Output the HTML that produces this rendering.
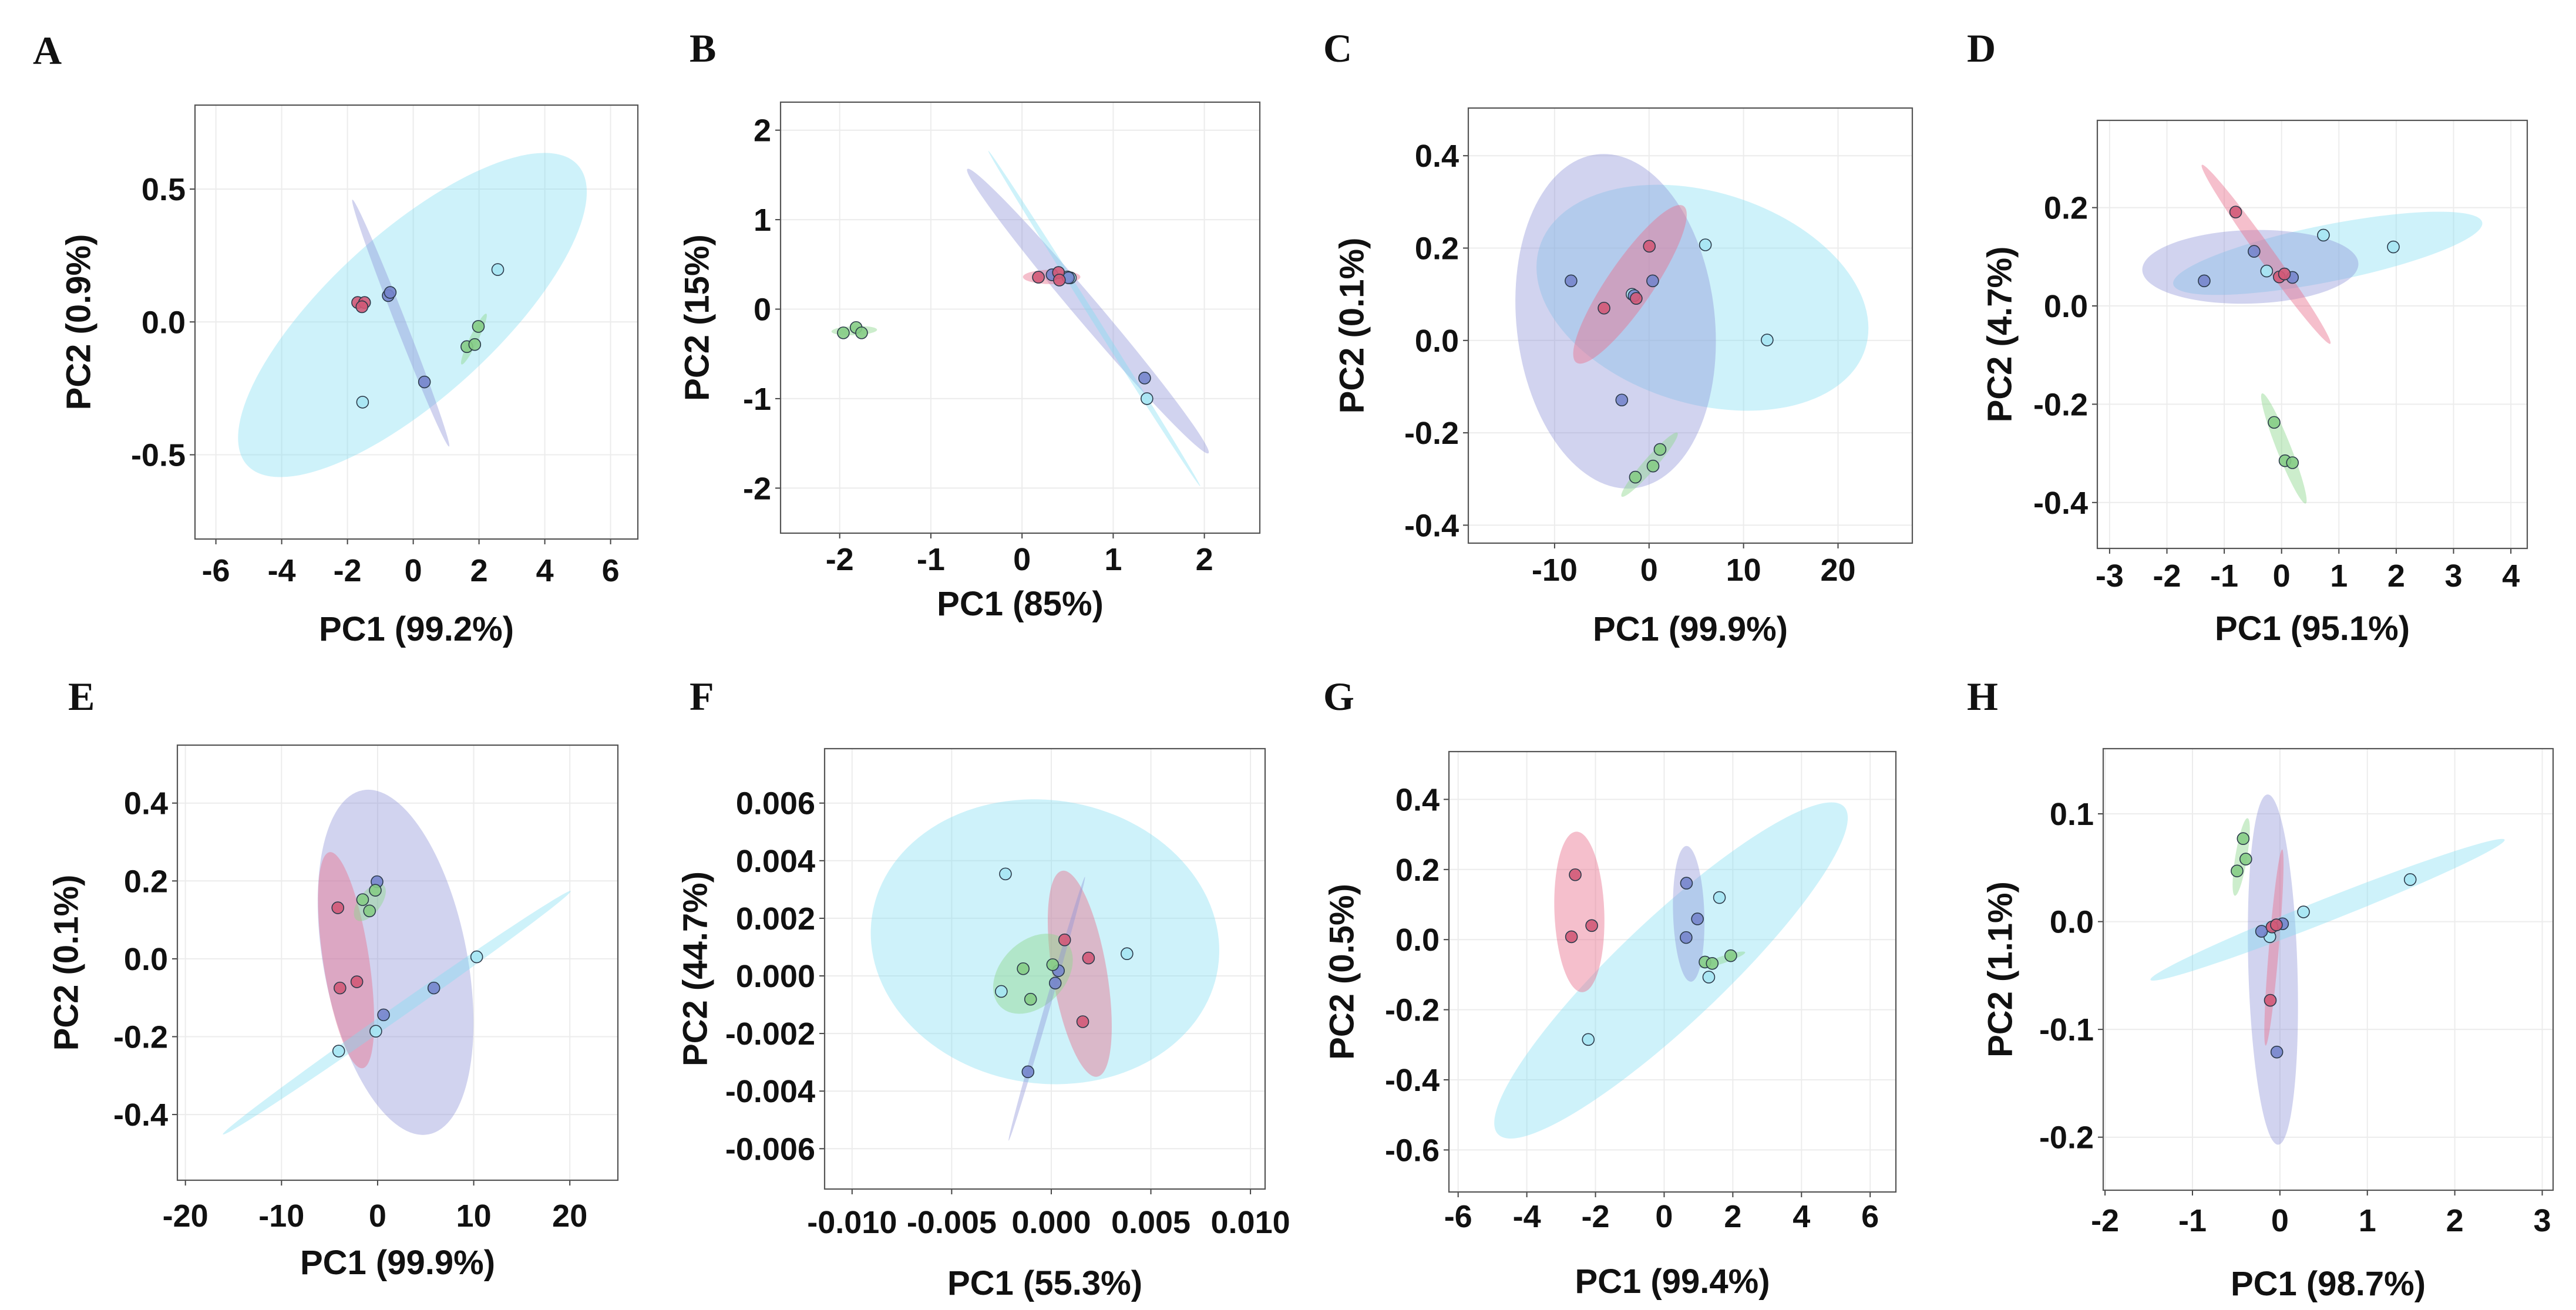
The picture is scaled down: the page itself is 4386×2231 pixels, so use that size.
<!DOCTYPE html>
<html><head><meta charset="utf-8">
<style>
html,body{margin:0;padding:0;background:#fff;}
svg{display:block;}
.tick{font-family:"Liberation Sans",Arial,sans-serif;font-weight:bold;font-size:54px;fill:#111;}
.title{font-family:"Liberation Sans",Arial,sans-serif;font-weight:bold;font-size:58px;fill:#111;}
.letter{font-family:"Liberation Serif","Times New Roman",serif;font-weight:bold;font-size:68px;fill:#111;}
</style></head>
<body>
<svg id="fig" width="4386" height="2231" viewBox="0 0 4386 2231" xmlns="http://www.w3.org/2000/svg"></svg>
<script>
// ---------- DATA (PC1, PC2 per sample) ----------
const A_xticks=[-6,-4,-2,0,2,4,6]; const A_yticks=[-0.5,0,0.5];
const A_red=[[-1.69,0.073],[-1.48,0.073],[-1.56,0.057]];
const A_blue=[[-0.76,0.099],[-0.70,0.111],[0.34,-0.226]];
const A_cyan=[[2.57,0.197],[-1.54,-0.302]];
const A_green=[[1.63,-0.093],[1.87,-0.085],[1.98,-0.017]];

const B_xticks=[-2,-1,0,1,2]; const B_yticks=[-2,-1,0,1,2];
const B_red=[[0.18,0.357],[0.40,0.41],[0.41,0.325]];
const B_blue=[[0.33,0.384],[0.51,0.35],[1.345,-0.77]];
const B_cyan=[[0.53,0.35],[0.50,0.36],[1.37,-1.0]];
const B_green=[[-1.96,-0.265],[-1.82,-0.205],[-1.76,-0.265]];

const C_xticks=[-10,0,10,20]; const C_yticks=[-0.4,-0.2,0,0.2,0.4];
const C_red=[[0.03,0.204],[-4.77,0.07],[-1.36,0.091]];
const C_blue=[[-8.26,0.129],[0.38,0.129],[-2.89,-0.129],[-1.58,0.097]];
const C_cyan=[[5.96,0.207],[12.5,0.001],[-1.8,0.1]];
const C_green=[[-1.45,-0.296],[0.42,-0.272],[1.16,-0.236]];

const D_xticks=[-3,-2,-1,0,1,2,3,4]; const D_yticks=[-0.4,-0.2,0,0.2];
const D_red=[[-0.8,0.191],[-0.04,0.059],[0.05,0.065]];
const D_blue=[[-1.35,0.051],[-0.48,0.111],[0.19,0.058]];
const D_cyan=[[0.73,0.144],[1.95,0.12],[-0.26,0.071]];
const D_green=[[-0.13,-0.237],[0.06,-0.315],[0.19,-0.319]];

const E_xticks=[-20,-10,0,10,20]; const E_yticks=[-0.4,-0.2,0,0.2,0.4];
const E_red=[[-4.14,0.131],[-3.92,-0.075],[-2.16,-0.059]];
const E_blue=[[-0.06,0.198],[0.62,-0.144],[5.85,-0.075]];
const E_cyan=[[10.31,0.005],[-0.19,-0.186],[-4.05,-0.237]];
const E_green=[[-1.56,0.152],[-0.24,0.176],[-0.84,0.123]];

const F_xticks=[-0.01,-0.005,0,0.005,0.01]; const F_yticks=[-0.006,-0.004,-0.002,0,0.002,0.004,0.006];
const F_red=[[0.00067,0.00125],[0.00187,0.00062],[0.00158,-0.00159]];
const F_blue=[[0.00036,0.00018],[0.0002,-0.00025],[-0.00117,-0.00333]];
const F_cyan=[[-0.0023,0.00354],[-0.00251,-0.00054],[0.0038,0.00077]];
const F_green=[[-0.00141,0.00025],[0.00007,0.00039],[-0.00104,-0.00081]];

const G_xticks=[-6,-4,-2,0,2,4,6]; const G_yticks=[-0.6,-0.4,-0.2,0,0.2,0.4];
const G_red=[[-2.59,0.185],[-2.11,0.04],[-2.7,0.008]];
const G_blue=[[0.65,0.161],[0.97,0.059],[0.64,0.006]];
const G_cyan=[[1.61,0.12],[1.30,-0.107],[-2.21,-0.285]];
const G_green=[[1.19,-0.064],[1.40,-0.068],[1.94,-0.046]];

const H_xticks=[-2,-1,0,1,2,3]; const H_yticks=[-0.2,-0.1,0,0.1];
const H_red=[[-0.09,-0.005],[-0.04,-0.003],[-0.11,-0.073]];
const H_blue=[[-0.21,-0.009],[0.03,-0.002],[-0.035,-0.121]];
const H_cyan=[[0.27,0.009],[1.49,0.039],[-0.115,-0.014]];
const H_green=[[-0.42,0.077],[-0.39,0.058],[-0.49,0.047]];

// confidence ellipses: [group, majorEnd1, majorEnd2, minor/major ratio]
const A_ell=[["cyan",[-5.05,-0.539],[5.0,0.591],0.37],["blue",[-1.85,0.46],[1.09,-0.469],0.04],["green",[1.47,-0.16],[2.22,0.031],0.15],["red",[-1.8,0.068],[-1.35,0.068],0.5]];
const B_ell=[["blue",[-0.6,1.567],[2.045,-1.61],0.065],["cyan",[-0.37,1.77],[1.955,-1.98],0.015],["red",[0.01,0.36],[0.64,0.36],0.25],["green",[-2.09,-0.25],[-1.59,-0.23],0.2]];
const C_ell=[["cyan",[-11.6,0.202],[22.9,-0.017],0.62],["blue",[-5.5,0.403],[-1.58,-0.32],0.59],["red",[-7.69,-0.048],[3.65,0.291],0.24],["green",[-2.9,-0.338],[3.0,-0.2],0.15]];
const D_ell=[["cyan",[-1.89,0.044],[3.5,0.17],0.18],["blue",[-2.43,0.073],[1.34,0.086],0.34],["red",[-1.39,0.287],[0.85,-0.077],0.07],["green",[-0.34,-0.178],[0.42,-0.402],0.12]];
const E_ell=[["blue",[-1.56,0.433],[5.3,-0.451],0.41],["red",[-5.0,0.274],[-1.56,-0.281],0.21],["cyan",[-16.1,-0.451],[20.09,0.174],0.03],["green",[-2.2,0.1],[0.58,0.19],0.5]];
const F_ell=[["cyan",[-0.009,0.00208],[0.00837,0.00029],0.81],["red",[0.00055,0.00365],[0.00231,-0.0035],0.26],["green",[-0.00255,-0.00107],[0.00071,0.00122],0.7],["blue",[-0.00214,-0.00572],[0.00169,0.00344],0.02]];
const G_ell=[["cyan",[-4.84,-0.555],[5.24,0.379],0.22],["red",[-2.56,0.308],[-2.38,-0.15],0.31],["blue",[0.65,0.267],[0.78,-0.12],0.23],["green",[1.04,-0.079],[2.36,-0.036],0.15]];
const H_ell=[["blue",[-0.14,0.118],[-0.02,-0.207],0.14],["red",[0.026,0.067],[-0.163,-0.115],0.05],["cyan",[-1.48,-0.054],[2.57,0.076],0.06],["green",[-0.37,0.096],[-0.515,0.024],0.15]];

const A_labels=["-6","-4","-2","0","2","4","6"]; const A_ylabels=["-0.5","0.0","0.5"];
const B_labels=["-2","-1","0","1","2"]; const B_ylabels=["-2","-1","0","1","2"];
const C_labels=["-10","0","10","20"]; const C_ylabels=["-0.4","-0.2","0.0","0.2","0.4"];
const D_labels=["-3","-2","-1","0","1","2","3","4"]; const D_ylabels=["-0.4","-0.2","0.0","0.2"];
const E_labels=["-20","-10","0","10","20"]; const E_ylabels=["-0.4","-0.2","0.0","0.2","0.4"];
const F_labels=["-0.010","-0.005","0.000","0.005","0.010"]; const F_ylabels=["-0.006","-0.004","-0.002","0.000","0.002","0.004","0.006"];
const G_labels=["-6","-4","-2","0","2","4","6"]; const G_ylabels=["-0.6","-0.4","-0.2","0.0","0.2","0.4"];
const H_labels=["-2","-1","0","1","2","3"]; const H_ylabels=["-0.2","-0.1","0.0","0.1"];

// ---------- LAYOUT ----------
const panels=[
 {id:"A",box:[332,179,1086,918],xr:[-6,367.6,6,1039.6],yr:[0.5,322,-0.5,774.5],xt:"PC1 (99.2%)",yt:"PC2 (0.9%)",lt:[56,109],ytx:198,xtb:173,xlb:72,xticks:A_xticks,yticks:A_yticks,xl:A_labels,yl:A_ylabels,ell:A_ell,g:{cyan:A_cyan,blue:A_blue,red:A_red,green:A_green}},
 {id:"B",box:[1329,174,2145,908],xr:[-2,1429.7,2,2050.6],yr:[2,221.7,-2,831.3],xt:"PC1 (85%)",yt:"PC2 (15%)",lt:[1174,105],ytx:142,xtb:140,xlb:63,xticks:B_xticks,yticks:B_yticks,xl:B_labels,yl:B_ylabels,ell:B_ell,g:{cyan:B_cyan,blue:B_blue,red:B_red,green:B_green}},
 {id:"C",box:[2500,184,3256,925],xr:[-10,2646.9,20,3129.5],yr:[0.4,265.2,-0.4,894.4],xt:"PC1 (99.9%)",yt:"PC2 (0.1%)",lt:[2253,105],ytx:198,xtb:166,xlb:64,xticks:C_xticks,yticks:C_yticks,xl:C_labels,yl:C_ylabels,ell:C_ell,g:{cyan:C_cyan,blue:C_blue,red:C_red,green:C_green}},
 {id:"D",box:[3571,205,4303,934],xr:[-3,3591.9,4,4275.1],yr:[0.2,353.6,-0.4,855.8],xt:"PC1 (95.1%)",yt:"PC2 (4.7%)",lt:[3349,105],ytx:166,xtb:156,xlb:65,xticks:D_xticks,yticks:D_yticks,xl:D_labels,yl:D_ylabels,ell:D_ell,g:{cyan:D_cyan,blue:D_blue,red:D_red,green:D_green}},
 {id:"E",box:[302,1269,1052,2010],xr:[-20,315.7,20,970.2],yr:[0.4,1367.7,-0.4,1898.1],xt:"PC1 (99.9%)",yt:"PC2 (0.1%)",lt:[116,1209],ytx:189,xtb:160,xlb:79,xticks:E_xticks,yticks:E_yticks,xl:E_labels,yl:E_ylabels,ell:E_ell,g:{cyan:E_cyan,blue:E_blue,red:E_red,green:E_green}},
 {id:"F",box:[1404,1275,2154,2025],xr:[-0.01,1450.8,0.01,2129.1],yr:[0.006,1367.7,-0.006,1956.3],xt:"PC1 (55.3%)",yt:"PC2 (44.7%)",lt:[1174,1209],ytx:220,xtb:180,xlb:75,xticks:F_xticks,yticks:F_yticks,xl:F_labels,yl:F_ylabels,ell:F_ell,g:{cyan:F_cyan,blue:F_blue,red:F_red,green:F_green}},
 {id:"G",box:[2467,1280,3228,2030],xr:[-6,2482.7,6,3184.2],yr:[0.4,1361.4,-0.6,1958.4],xt:"PC1 (99.4%)",yt:"PC2 (0.5%)",lt:[2253,1209],ytx:182,xtb:172,xlb:60,xticks:G_xticks,yticks:G_yticks,xl:G_labels,yl:G_ylabels,ell:G_ell,g:{cyan:G_cyan,blue:G_blue,red:G_red,green:G_green}},
 {id:"H",box:[3581,1275,4347,2027],xr:[-2,3584.1,3,4328.5],yr:[0.1,1386,-0.2,1936.7],xt:"PC1 (98.7%)",yt:"PC2 (1.1%)",lt:[3349,1209],ytx:175,xtb:179,xlb:70,xticks:H_xticks,yticks:H_yticks,xl:H_labels,yl:H_ylabels,ell:H_ell,g:{cyan:H_cyan,blue:H_blue,red:H_red,green:H_green}}
];

const ELL_FILL={cyan:"#7fdcf2",blue:"#8c90d8",red:"#e8708f",green:"#8fd68f"};
const ELL_OP={cyan:0.38,blue:0.4,red:0.45,green:0.45};
const PT_FILL={cyan:"#a6e6f3",blue:"#7585cc",red:"#d25a78",green:"#86cc86"};

const NS="http://www.w3.org/2000/svg";
const svg=document.getElementById("fig");
function mk(tag,attrs,parent){const e=document.createElementNS(NS,tag);for(const k in attrs)e.setAttribute(k,attrs[k]);(parent||svg).appendChild(e);return e;}

panels.forEach(function(p){
  const sx=v=>p.xr[1]+(v-p.xr[0])*(p.xr[3]-p.xr[1])/(p.xr[2]-p.xr[0]);
  const sy=v=>p.yr[1]+(v-p.yr[0])*(p.yr[3]-p.yr[1])/(p.yr[2]-p.yr[0]);
  const [L,T,R,B]=p.box;
  const g=mk("g",{});
  
  
  const cp=mk("clipPath",{id:"clip"+p.id},g);
  mk("rect",{x:L,y:T,width:R-L,height:B-T},cp);
  const letter=mk("text",{x:p.lt[0],y:p.lt[1],class:"letter"},g);
  letter.textContent=p.id;
  
  
  p.xticks.forEach(function(t,i){
    const x=sx(t);
    const gl=mk("line",{x1:x,y1:T,x2:x,y2:B,stroke:"#ececec","stroke-width":2},g);
    
    
    const tk=mk("line",{x1:x,y1:B,x2:x,y2:B+9,stroke:"#444","stroke-width":2},g);
    
    
    const tl=mk("text",{x:x,y:B+p.xlb,class:"tick","text-anchor":"middle"},g);
    tl.textContent=p.xl[i];
    
    
  });
  p.yticks.forEach(function(t,i){
    const y=sy(t);
    const gl=mk("line",{x1:L,y1:y,x2:R,y2:y,stroke:"#ececec","stroke-width":2},g);
    
    
    const tk=mk("line",{x1:L-9,y1:y,x2:L,y2:y,stroke:"#444","stroke-width":2},g);
    
    
    const tl=mk("text",{x:L-16,y:y+19,class:"tick","text-anchor":"end"},g);
    tl.textContent=p.yl[i];
    
    
  });
  const eg=mk("g",{"clip-path":"url(#clip"+p.id+")"},g);
  p.ell.forEach(function(e){
    const x1=sx(e[1][0]),y1=sy(e[1][1]),x2=sx(e[2][0]),y2=sy(e[2][1]);
    const cx=(x1+x2)/2,cy=(y1+y2)/2,rx=Math.hypot(x2-x1,y2-y1)/2;
    const ang=Math.atan2(y2-y1,x2-x1)*180/Math.PI;
    const el=mk("ellipse",{cx:cx,cy:cy,rx:rx,ry:Math.max(rx*e[3],2),fill:ELL_FILL[e[0]],"fill-opacity":ELL_OP[e[0]],transform:"rotate("+ang+" "+cx+" "+cy+")"},eg);
    
    
  });
  ["cyan","blue","red","green"].forEach(function(k){
    p.g[k].forEach(function(pt){
      const c=mk("circle",{cx:sx(pt[0]),cy:sy(pt[1]),r:10,fill:PT_FILL[k],stroke:"#2b3a4a","stroke-width":1.6,"fill-opacity":0.9},g);
      
      
    });
  });
  const fr=mk("rect",{x:L,y:T,width:R-L,height:B-T,fill:"none",stroke:"#555","stroke-width":2.2},g);
  
  
  const xt=mk("text",{x:(L+R)/2,y:B+p.xtb,class:"title","text-anchor":"middle"},g);
  xt.textContent=p.xt;
  
  
  const yx=L-p.ytx, yy=(T+B)/2;
  const yt=mk("text",{x:yx,y:yy,class:"title","text-anchor":"middle",transform:"rotate(-90 "+yx+" "+yy+")","dominant-baseline":"central"},g);
  yt.textContent=p.yt;
  
  
});
</script>
</body></html>
